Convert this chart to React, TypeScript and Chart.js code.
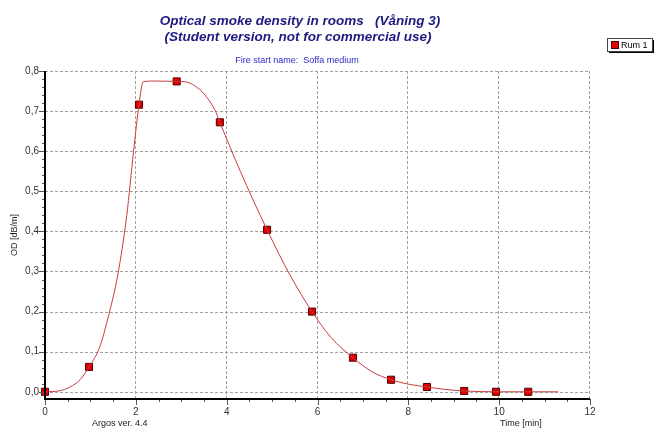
import React, { useEffect, useRef } from "react";
import { Chart, registerables } from "chart.js";

Chart.register(...registerables);

// ---- data ----
const curveTime = [0, 0.3, 0.55, 0.77, 0.97, 1.2, 1.4, 1.6, 1.8, 1.95, 2.07, 2.16, 2.4, 2.9, 3.1, 3.3, 3.5, 3.74, 3.85, 4.3, 4.89, 5.4, 5.88, 6.3, 6.78, 7.2, 7.62, 8.0, 8.41, 8.8, 9.23, 9.93, 10.64, 11.3];
const curveOD = [0, 0.002, 0.012, 0.03, 0.062, 0.11, 0.19, 0.29, 0.44, 0.6, 0.716, 0.773, 0.775, 0.774, 0.773, 0.763, 0.743, 0.703, 0.672, 0.55, 0.404, 0.29, 0.2, 0.135, 0.085, 0.05, 0.03, 0.019, 0.012, 0.006, 0.002, 0, 0, 0];
const markerTime = [0, 0.97, 2.07, 2.9, 3.85, 4.89, 5.88, 6.78, 7.62, 8.41, 9.23, 9.93, 10.64];
const markerOD = [0, 0.062, 0.716, 0.774, 0.672, 0.404, 0.2, 0.085, 0.03, 0.012, 0.002, 0, 0];

const xTicks = [0, 2, 4, 6, 8, 10, 12];
const yTicks = [0, 0.1, 0.2, 0.3, 0.4, 0.5, 0.6, 0.7, 0.8];
const xMinorStep = 0.5;
const yMinorStep = 0.02;

const titleLine1 = "Optical smoke density in rooms   (Våning 3)";
const titleLine2 = "(Student version, not for commercial use)";
const subTitle = "Fire start name:  Soffa medium";
const seriesName = "Rum 1";
const yTitle = "OD [dB/m]";
const xTitle = "Time [min]";
const versionText = "Argos ver. 4.4";

const FONT = "Arial, 'Liberation Sans', sans-serif";

const decorPlugin = {
  id: "decor",
  beforeDatasetsDraw(chart: any) {
    const { ctx, chartArea: a, scales } = chart;
    const x = scales.x;
    const y = scales.y;
    ctx.save();
    ctx.strokeStyle = "#a0a0a0";
    ctx.lineWidth = 1;
    ctx.setLineDash([3, 2]);
    ctx.beginPath();
    for (const v of yTicks) {
      const py = Math.round(y.getPixelForValue(v)) + 0.5;
      ctx.moveTo(a.left, py);
      ctx.lineTo(a.right, py);
    }
    for (const v of xTicks) {
      if (v === 0) continue;
      const px = Math.round(x.getPixelForValue(v)) - 0.5;
      ctx.moveTo(px, a.top);
      ctx.lineTo(px, a.bottom);
    }
    ctx.stroke();
    ctx.restore();
  },
  afterDatasetsDraw(chart: any) {
    const { ctx, chartArea: a, scales } = chart;
    const x = scales.x;
    const y = scales.y;
    ctx.save();
    ctx.strokeStyle = "#555";
    ctx.lineWidth = 1;
    ctx.beginPath();
    for (let v = 0; v <= 0.8001; v += yMinorStep) {
      const py = Math.round(y.getPixelForValue(v)) + 0.5;
      ctx.moveTo(a.left - 3, py);
      ctx.lineTo(a.left, py);
    }
    for (const v of yTicks) {
      const py = Math.round(y.getPixelForValue(v)) + 0.5;
      ctx.moveTo(a.left - 6, py);
      ctx.lineTo(a.left, py);
    }
    for (let v = 0; v <= 12.001; v += xMinorStep) {
      const px = Math.round(x.getPixelForValue(v)) + 0.5;
      ctx.moveTo(px, a.bottom);
      ctx.lineTo(px, a.bottom + 3);
    }
    for (const v of xTicks) {
      const px = Math.round(x.getPixelForValue(v)) + 0.5;
      ctx.moveTo(px, a.bottom);
      ctx.lineTo(px, a.bottom + 6);
    }
    ctx.stroke();
    ctx.strokeStyle = "#000";
    ctx.lineWidth = 2;
    ctx.beginPath();
    ctx.moveTo(a.left, a.top);
    ctx.lineTo(a.left, a.bottom);
    ctx.lineTo(a.right, a.bottom);
    ctx.stroke();
    ctx.restore();
  },
  afterDraw(chart: any) {
    const { ctx, chartArea: a } = chart;
    ctx.save();
    ctx.textAlign = "center";
    ctx.textBaseline = "middle";
    ctx.fillStyle = "#1a1a80";
    ctx.font = `italic bold 13.5px ${FONT}`;
    ctx.fillText(titleLine1, 300, 21);
    ctx.fillText(titleLine2, 298, 37);
    ctx.fillStyle = "#2a2acc";
    ctx.font = `9px ${FONT}`;
    ctx.fillText(subTitle, 297, 61);
    ctx.fillStyle = "#222";
    ctx.font = `9px ${FONT}`;
    ctx.textAlign = "left";
    ctx.fillText(versionText, 92, 424);
    ctx.fillText(xTitle, 500, 424);
    ctx.save();
    ctx.translate(15, (a.top + a.bottom) / 2);
    ctx.rotate(-Math.PI / 2);
    ctx.textAlign = "center";
    ctx.fillText(yTitle, 0, 0);
    ctx.restore();
    ctx.fillStyle = "#000";
    ctx.fillRect(609, 51, 45, 2);
    ctx.fillRect(652, 40, 2, 13);
    ctx.fillStyle = "#fff";
    ctx.fillRect(607, 38, 45, 13);
    ctx.strokeStyle = "#444";
    ctx.lineWidth = 1;
    ctx.strokeRect(607.5, 38.5, 45, 13);
    ctx.fillStyle = "#e00000";
    ctx.fillRect(612, 42, 6, 6);
    ctx.strokeStyle = "#500";
    ctx.strokeRect(611.5, 41.5, 7, 7);
    ctx.fillStyle = "#000";
    ctx.font = `9px ${FONT}`;
    ctx.textAlign = "left";
    ctx.fillText(seriesName, 621, 45.5);
    ctx.restore();
  },
};

export default function App() {
  const ref = useRef<HTMLCanvasElement>(null);
  useEffect(() => {
    if (!ref.current) return;
    const chart = new Chart(ref.current, {
      type: "scatter",
      data: {
        datasets: [
          {
            label: seriesName,
            data: curveTime.map((t, i) => ({ x: t, y: curveOD[i] })),
            showLine: true,
            borderColor: "rgb(200,60,60)",
            borderWidth: 1,
            pointRadius: 0,
            cubicInterpolationMode: "monotone",
            clip: false as any,
          },
          {
            label: seriesName + " markers",
            data: markerTime.map((t, i) => ({ x: t, y: markerOD[i] })),
            showLine: false,
            pointStyle: "rect",
            pointRadius: 5,
            backgroundColor: "#e00000",
            borderColor: "#500000",
            borderWidth: 1,
            clip: false as any,
          },
        ],
      },
      options: {
        animation: false,
        responsive: false,
        layout: { padding: { top: 71, right: 66, left: 0, bottom: 0 } },
        plugins: { legend: { display: false }, title: { display: false }, tooltip: { enabled: false } },
        scales: {
          x: {
            type: "linear",
            min: 0,
            max: 12,
            afterBuildTicks: (axis: any) => {
              axis.ticks = xTicks.map((v) => ({ value: v }));
            },
            afterFit: (scale: any) => {
              scale.height = 34;
            },
            border: { display: false },
            grid: { display: false, drawTicks: false },
            ticks: {
              padding: 7,
              color: "#333",
              font: { family: FONT, size: 10 },
              maxRotation: 0,
              callback: (v: any) => String(v),
            },
          },
          y: {
            type: "linear",
            min: -0.018,
            max: 0.8,
            afterBuildTicks: (axis: any) => {
              axis.ticks = yTicks.map((v) => ({ value: v }));
            },
            afterFit: (scale: any) => {
              scale.width = 45;
            },
            border: { display: false },
            grid: { display: false, drawTicks: false },
            ticks: {
              padding: 6,
              color: "#333",
              font: { family: FONT, size: 10 },
              callback: (v: any) => Number(v).toFixed(1).replace(".", ","),
            },
          },
        },
      },
      plugins: [decorPlugin],
    });
    return () => chart.destroy();
  }, []);
  return (
    <div style={{ position: "absolute", left: 0, top: 0, width: 656, height: 433, background: "#fff" }}>
      <canvas ref={ref} width={656} height={433} />
    </div>
  );
}
